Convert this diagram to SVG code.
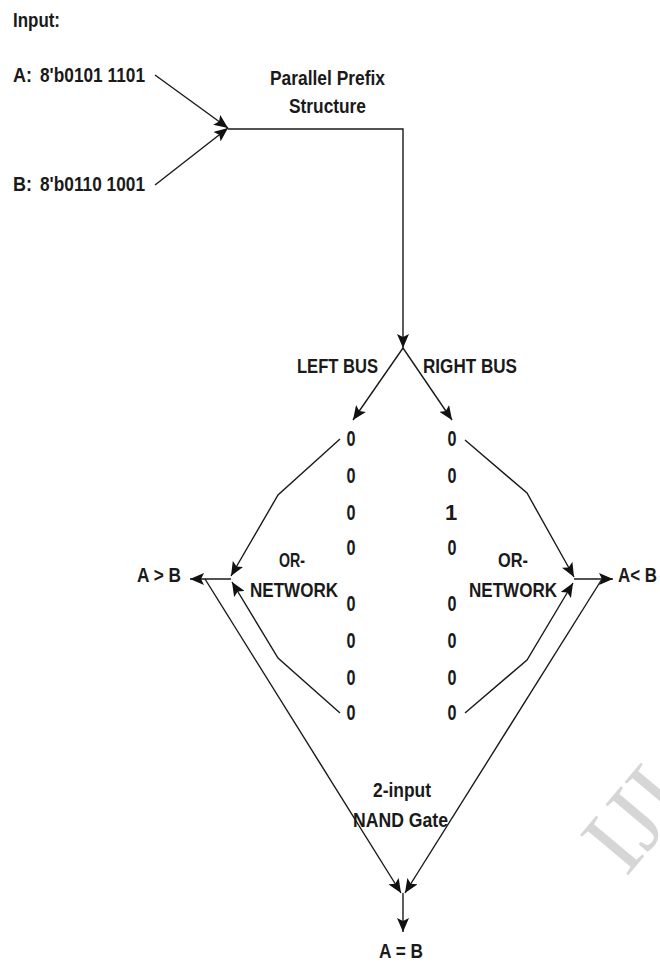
<svg xmlns="http://www.w3.org/2000/svg" width="660" height="962" viewBox="0 0 660 962">
  <style>
    .t { font-family: "Liberation Sans Narrow", "Liberation Sans", Arial, sans-serif; font-size: 21px; font-weight: bold; fill: #1a1a1a; }
    .bit { font-size: 22px; text-anchor: middle; }
    .wire { fill: none; stroke: #1a1a1a; stroke-width: 1.4; stroke-linejoin: miter; }
    .wm { font-family: "Liberation Serif", "Times New Roman", serif; font-size: 96px; fill: #d6d6d6; }
  </style>
  <defs>
    <marker id="arrow" markerUnits="userSpaceOnUse" markerWidth="15" markerHeight="12" refX="14" refY="6" orient="auto">
      <path d="M0,0 L14,6 L0,12 L3,6 z" fill="#111"/>
    </marker>
  </defs>
  <rect width="660" height="962" fill="#ffffff"/>

  <!-- faint publisher mark, lower right -->
  <g id="watermark">
    <text class="wm" x="0" y="0" transform="translate(626,878) rotate(-50)">IJI</text>
  </g>

  <g id="inputs">
    <text class="t" x="13" y="27" textLength="47" lengthAdjust="spacingAndGlyphs">Input:</text>
    <text class="t" x="13" y="82" textLength="19" lengthAdjust="spacingAndGlyphs">A:</text>
    <text class="t" x="40" y="82" textLength="105" lengthAdjust="spacingAndGlyphs">8'b0101 1101</text>
    <text class="t" x="13" y="191" textLength="19" lengthAdjust="spacingAndGlyphs">B:</text>
    <text class="t" x="40" y="191" textLength="105" lengthAdjust="spacingAndGlyphs">8'b0110 1001</text>
  </g>

  <g id="prefix">
    <text class="t" x="270" y="85" textLength="115" lengthAdjust="spacingAndGlyphs">Parallel Prefix</text>
    <text class="t" x="289" y="113" textLength="77" lengthAdjust="spacingAndGlyphs">Structure</text>
  </g>

  <g id="buses">
    <text class="t" x="297" y="373" textLength="81" lengthAdjust="spacingAndGlyphs">LEFT BUS</text>
    <text class="t" x="423" y="373" textLength="94" lengthAdjust="spacingAndGlyphs">RIGHT BUS</text>
  </g>

  <g id="left-bits">
    <text class="t bit" x="351" y="446" textLength="9" lengthAdjust="spacingAndGlyphs">0</text>
    <text class="t bit" x="351" y="483" textLength="9" lengthAdjust="spacingAndGlyphs">0</text>
    <text class="t bit" x="351" y="520" textLength="9" lengthAdjust="spacingAndGlyphs">0</text>
    <text class="t bit" x="351" y="555" textLength="9" lengthAdjust="spacingAndGlyphs">0</text>
    <text class="t bit" x="351" y="611" textLength="9" lengthAdjust="spacingAndGlyphs">0</text>
    <text class="t bit" x="351" y="648" textLength="9" lengthAdjust="spacingAndGlyphs">0</text>
    <text class="t bit" x="351" y="685" textLength="9" lengthAdjust="spacingAndGlyphs">0</text>
    <text class="t bit" x="351" y="720" textLength="9" lengthAdjust="spacingAndGlyphs">0</text>
  </g>

  <g id="right-bits">
    <text class="t bit" x="452" y="446" textLength="9" lengthAdjust="spacingAndGlyphs">0</text>
    <text class="t bit" x="452" y="483" textLength="9" lengthAdjust="spacingAndGlyphs">0</text>
    <text class="t bit" x="451" y="520">1</text>
    <text class="t bit" x="452" y="555" textLength="9" lengthAdjust="spacingAndGlyphs">0</text>
    <text class="t bit" x="452" y="611" textLength="9" lengthAdjust="spacingAndGlyphs">0</text>
    <text class="t bit" x="452" y="648" textLength="9" lengthAdjust="spacingAndGlyphs">0</text>
    <text class="t bit" x="452" y="685" textLength="9" lengthAdjust="spacingAndGlyphs">0</text>
    <text class="t bit" x="452" y="720" textLength="9" lengthAdjust="spacingAndGlyphs">0</text>
  </g>

  <g id="left-or">
    <text class="t" x="279" y="567" textLength="26" lengthAdjust="spacingAndGlyphs">OR-</text>
    <text class="t" x="250" y="597" textLength="88" lengthAdjust="spacingAndGlyphs">NETWORK</text>
  </g>

  <g id="right-or">
    <text class="t" x="498" y="567" textLength="30" lengthAdjust="spacingAndGlyphs">OR-</text>
    <text class="t" x="469" y="597" textLength="88" lengthAdjust="spacingAndGlyphs">NETWORK</text>
  </g>

  <g id="a-gt-b">
    <text class="t" x="137" y="582" textLength="44" lengthAdjust="spacingAndGlyphs">A &gt; B</text>
  </g>

  <g id="a-lt-b">
    <text class="t" x="618" y="582" textLength="39" lengthAdjust="spacingAndGlyphs">A&lt; B</text>
  </g>

  <g id="nand">
    <text class="t" x="373" y="797" textLength="58" lengthAdjust="spacingAndGlyphs">2-input</text>
    <text class="t" x="353" y="827" textLength="95" lengthAdjust="spacingAndGlyphs">NAND Gate</text>
  </g>

  <g id="a-eq-b">
    <text class="t" x="379" y="958" textLength="44" lengthAdjust="spacingAndGlyphs">A = B</text>
  </g>

  <g id="connectors" class="wire">
    <!-- operands into the prefix structure -->
    <path d="M155,75 L228,128" marker-end="url(#arrow)"/>
    <path d="M155,185 L228,128" marker-end="url(#arrow)"/>
    <path d="M228,129 L403,129 L403,348" marker-end="url(#arrow)"/>
    <!-- bus split -->
    <path d="M403,348 L353,420" marker-end="url(#arrow)"/>
    <path d="M403,348 L452,420" marker-end="url(#arrow)"/>
    <!-- left OR network -->
    <path d="M340,439 L278,495 L231,576" marker-end="url(#arrow)"/>
    <path d="M340,713 L278,658 L232,582" marker-end="url(#arrow)"/>
    <path d="M231,579 L190,579" marker-end="url(#arrow)"/>
    <!-- right OR network -->
    <path d="M465,440 L527,493 L574,577" marker-end="url(#arrow)"/>
    <path d="M465,713 L527,660 L573,583" marker-end="url(#arrow)"/>
    <path d="M574,579 L613,579" marker-end="url(#arrow)"/>
    <!-- into the NAND gate -->
    <path d="M205,579 L401,893" marker-end="url(#arrow)"/>
    <path d="M602,579 L405,893" marker-end="url(#arrow)"/>
    <path d="M403,893 L403,932" marker-end="url(#arrow)"/>
  </g>
</svg>
